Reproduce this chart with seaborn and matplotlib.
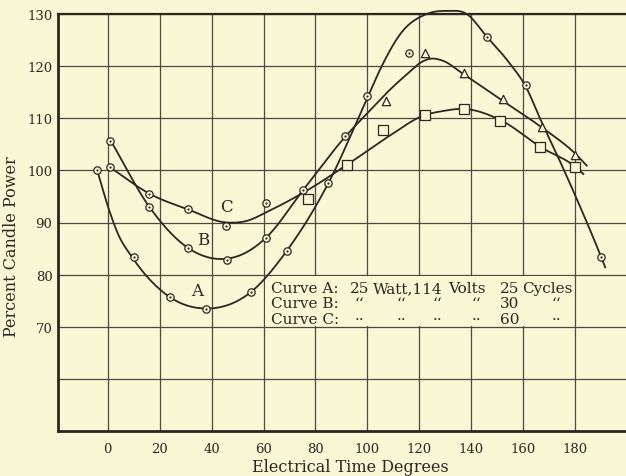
import numpy as np
import matplotlib
matplotlib.use("Agg")
import matplotlib.pyplot as plt
import seaborn as sns
from matplotlib.patches import Rectangle

# ---- observed test points (electrical degrees, percent candle power) ----
a_deg = [-4, 10, 24, 38, 55, 69, 85, 100, 116, 146, 161, 190]
a_cp = [100, 83.3, 75.8, 73.4, 76.6, 84.5, 97.6, 114.3, 122.5, 125.5, 116.4, 83.3]

b_circ_deg = [1, 16, 31, 46, 61, 75, 91.5]
b_circ_cp = [105.7, 92.9, 85.2, 82.9, 87.0, 96.2, 106.6]
b_tri_deg = [107, 122, 137, 152, 167, 180]
b_tri_cp = [113.4, 122.6, 118.7, 113.7, 108.3, 103.0]

c_circ_deg = [1, 16, 31, 45.5, 61]
c_circ_cp = [100.6, 95.5, 92.6, 89.3, 93.7]
c_sq_deg = [77, 92, 106, 122, 137, 151, 166.5, 180]
c_sq_cp = [94.6, 101.1, 107.8, 110.7, 111.8, 109.5, 104.4, 100.6]

# ---- faired curves drawn through the points ----
a_curve_deg = [-4, 0.5, 4, 9.5, 23.6, 38, 55, 69, 85, 100.3, 105.5, 113, 122.8,
               130.5, 138.2, 146, 154, 161, 167, 173.4, 181, 190, 191.5]
a_curve_cp = [100, 92.5, 87.8, 83.3, 75.8, 73.5, 76.6, 84.6, 97.6, 114.3, 120.0, 126.4, 130.0,
              130.6, 130.0, 125.6, 121.0, 116.0, 109.3, 102.5, 94.0, 83.3, 81.4]

b_curve_deg = [1.2, 16.2, 30.7, 44.5, 53.5, 60.8, 75.2, 91.7, 100, 108.7, 116,
               120.5, 124, 129.2, 136.3, 151, 166.9, 180.2, 184.4]
b_curve_cp = [105.7, 92.9, 85.2, 83.0, 84.3, 87.0, 96.2, 106.6, 111.0, 115.5, 118.8,
              120.7, 121.4, 121.0, 118.7, 113.7, 108.3, 103.1, 100.9]

c_curve_deg = [0.9, 16.2, 31, 45.8, 53.5, 62, 76.6, 92.2, 108.7, 121.5, 129.2,
               136.9, 151, 166.9, 180.2, 183.1]
c_curve_cp = [100.6, 95.5, 92.5, 90.0, 90.3, 92.2, 96.1, 101.1, 106.7, 110.5, 111.4,
              111.8, 109.7, 104.4, 100.6, 99.3]

x_ticks = [0, 20, 40, 60, 80, 100, 120, 140, 160, 180]
y_ticks = [60, 70, 80, 90, 100, 110, 120, 130]
y_tick_labels = ["", "70", "80", "90", "100", "110", "120", "130"]

curve_names = ["A", "B", "C"]
curve_name_pos = [(34.4, 76.9), (36.8, 86.8), (45.8, 93.1)]

BG = "#f9f7d4"
INK = "#2b2723"
GRID = "#4d4843"
SERIF = ["DejaVu Serif"]


def faired(xs, ys, n=16):
    """Piecewise cubic Hermite path through the faired-curve knots."""
    x = np.asarray(xs, float)
    y = np.asarray(ys, float)
    h = np.diff(x)
    d = np.diff(y) / h
    m = np.empty_like(y)
    m[1:-1] = (h[1:] * d[:-1] + h[:-1] * d[1:]) / (h[:-1] + h[1:])
    m[0], m[-1] = d[0], d[-1]
    px, py = [], []
    for i in range(len(h)):
        t = np.linspace(0, 1, n, endpoint=False)
        h00 = 2 * t**3 - 3 * t**2 + 1
        h10 = t**3 - 2 * t**2 + t
        h01 = -2 * t**3 + 3 * t**2
        h11 = t**3 - t**2
        px.append(x[i] + t * h[i])
        py.append(h00 * y[i] + h10 * h[i] * m[i] + h01 * y[i + 1] + h11 * h[i] * m[i + 1])
    px.append([x[-1]])
    py.append([y[-1]])
    return np.concatenate(px), np.concatenate(py)


fig = plt.figure(figsize=(6.26, 4.77), dpi=100)
fig.patch.set_facecolor(BG)
ax = fig.add_axes([58 / 626, 45 / 477, 568 / 626, 417 / 477])
ax.set_facecolor(BG)

ax.set_xlim(-19.1, 199.5)
ax.set_ylim(50, 130)
ax.set_xticks(x_ticks)
ax.set_xticklabels([str(v) for v in x_ticks], family=SERIF, fontsize=9.5, color=INK)
ax.set_yticks(y_ticks)
ax.set_yticklabels(y_tick_labels, family=SERIF, fontsize=9.5, color=INK)
ax.tick_params(axis="both", length=0)
ax.tick_params(axis="x", pad=8)
ax.tick_params(axis="y", pad=4)
ax.set_axisbelow(True)
ax.grid(True, color=GRID, lw=0.9)
ax.spines["right"].set_visible(False)
for side, lw in (("left", 2.0), ("bottom", 2.0), ("top", 1.6)):
    ax.spines[side].set_linewidth(lw)
    ax.spines[side].set_color(INK)

# panel behind the curve legend blanks out the grid
ax.add_patch(Rectangle((60.6, 70.2), 118.8, 9.6, facecolor=BG, edgecolor="none", zorder=1.5))

# faired curves
for xs, ys in ((a_curve_deg, a_curve_cp), (b_curve_deg, b_curve_cp), (c_curve_deg, c_curve_cp)):
    fx, fy = faired(xs, ys)
    sns.lineplot(x=fx, y=fy, sort=False, estimator=None, color=INK, lw=1.3, ax=ax, zorder=3)
for ln in ax.lines:
    ln.set_clip_on(False)

# dotted-circle markers
circ_x = a_deg + b_circ_deg + c_circ_deg
circ_y = a_cp + b_circ_cp + c_circ_cp
sns.scatterplot(x=circ_x, y=circ_y, marker="o", s=28, color=BG, edgecolor=INK,
                linewidth=0.9, ax=ax, zorder=4, clip_on=False)
sns.scatterplot(x=circ_x, y=circ_y, marker="o", s=2.5, color=INK, edgecolor=INK,
                linewidth=0, ax=ax, zorder=5, clip_on=False)
# triangles (curve B) and squares (curve C)
sns.scatterplot(x=b_tri_deg, y=b_tri_cp, marker="^", s=36, color=BG, edgecolor=INK,
                linewidth=0.9, ax=ax, zorder=4)
sns.scatterplot(x=c_sq_deg, y=c_sq_cp, marker="s", s=44, color=BG, edgecolor=INK,
                linewidth=0.9, ax=ax, zorder=4)

for name, (x, y) in zip(curve_names, curve_name_pos):
    ax.text(x, y, name, family=SERIF, fontsize=12, color=INK, ha="center", va="center", zorder=6)

# curve legend, set out in columns
DIT = "\u2018\u2018"
DOT = "\u00b7\u00b7"
rows = [
    (76.6, [(63.0, "Curve A:"), (93.3, "25"), (102.0, "Watt,114"), (130.9, "Volts"),
            (151.0, "25"), (159.4, "Cycles")]),
    (73.7, [(63.0, "Curve B:"), (95.2, DIT), (111.2, DIT), (125.2, DIT),
            (140.1, DIT), (151.0, "30"), (170.9, DIT)]),
    (70.7, [(63.0, "Curve C:"), (95.2, DOT), (111.2, DOT), (125.2, DOT),
            (140.1, DOT), (151.0, "60"), (170.9, DOT)]),
]
for y, pieces in rows:
    for x, s in pieces:
        ax.text(x, y, s, family=SERIF, fontsize=11, color=INK, ha="left", va="baseline", zorder=6)

fig.text(350 / 626, 1 - 472 / 477, "Electrical Time Degrees", family=SERIF, fontsize=11.5,
         color=INK, ha="center", va="baseline")
fig.text(12 / 626, 1 - 246.7 / 477, "Percent Candle Power", family=SERIF, fontsize=11.5,
         color=INK, ha="center", va="center", rotation=90)

fig.savefig("out.png", dpi=100, facecolor=BG)
